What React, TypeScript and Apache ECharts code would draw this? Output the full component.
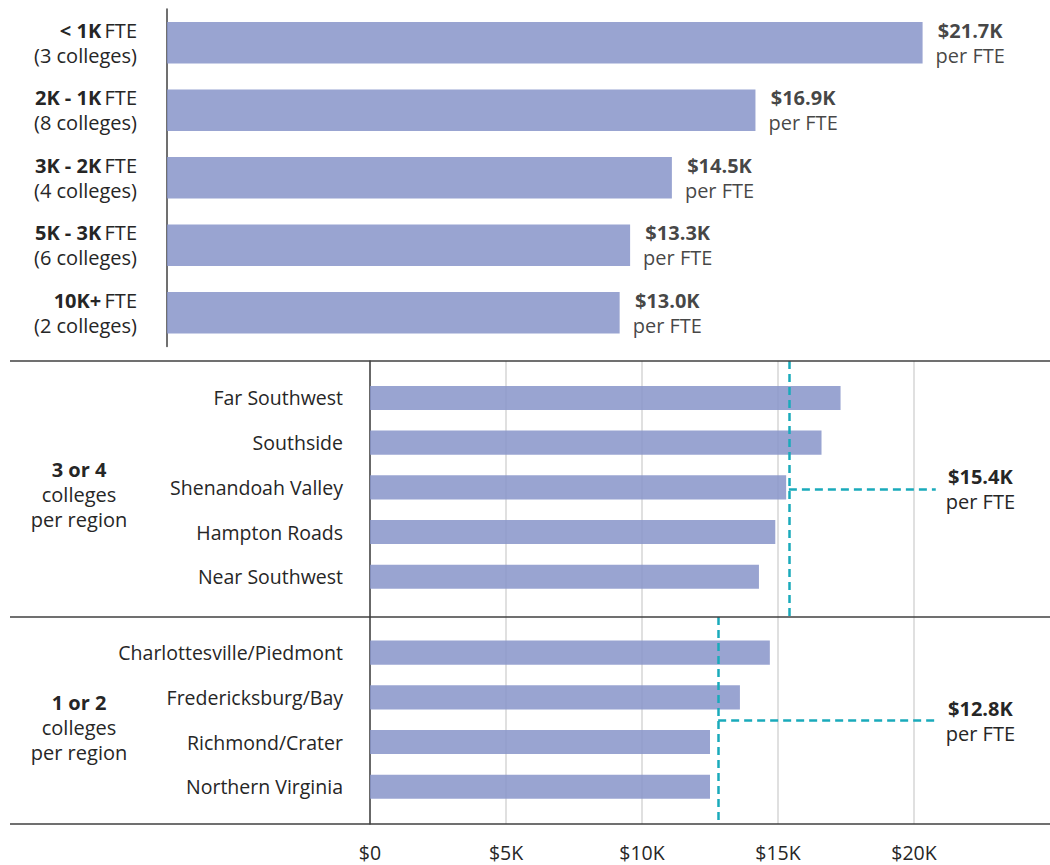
import React, { useEffect, useRef } from 'react';
import * as echarts from 'echarts';

// ---- data ----
const sizeBands = ['< 1K', '2K - 1K', '3K - 2K', '5K - 3K', '10K+'];
const sizeCollegeCounts = [3, 8, 4, 6, 2];
const sizeSpend = [21.7, 16.9, 14.5, 13.3, 13.0]; // $K per FTE

const bigRegions = ['Far Southwest', 'Southside', 'Shenandoah Valley', 'Hampton Roads', 'Near Southwest'];
const bigRegionSpend = [17.3, 16.6, 15.3, 14.9, 14.3];
const bigRegionAvg = 15.4;
const bigRegionGroup = ['3 or 4', 'colleges', 'per region'];

const smallRegions = ['Charlottesville/Piedmont', 'Fredericksburg/Bay', 'Richmond/Crater', 'Northern Virginia'];
const smallRegionSpend = [14.7, 13.6, 12.5, 12.5];
const smallRegionAvg = 12.8;
const smallRegionGroup = ['1 or 2', 'colleges', 'per region'];

const axisMax = 25;
const axisStep = 5;
const leaderEnd = 20.8;

// ---- styles ----
const FONT = '"Open Sans", "Noto Sans", sans-serif';
const TXT = '#262626';
const BAR = '#8794C9';
const TEAL = '#1AAABB';
const FRAME = '#404040';
const FS_TOP = 20;
const FS = 19.5;
const LH = 25;

const fmtK = (v: number) => '$' + v.toFixed(1) + 'K';

export default function App() {
  const ref = useRef<HTMLDivElement>(null);
  useEffect(() => {
    if (!ref.current) return;
    const chart = echarts.init(ref.current, undefined, { renderer: 'svg' });

    const hiddenX = (gridIndex: number) => ({
      type: 'value', gridIndex, min: 0, max: axisMax, show: false,
    });
    const gridX = (gridIndex: number, labels: boolean) => ({
      type: 'value', gridIndex, min: 0, max: axisMax, interval: axisStep,
      axisLine: { show: false }, axisTick: { show: false },
      splitLine: { show: true, showMaxLine: false, lineStyle: { color: '#d6d6d6', width: 1.5 } },
      axisLabel: {
        show: labels, showMaxLabel: false, margin: 18, color: TXT, fontFamily: FONT, fontSize: FS,
        formatter: (v: number) => (v === 0 ? '$0' : '$' + v + 'K'),
      },
    });
    const catLabel = {
      color: TXT, fontFamily: FONT, fontSize: FS, margin: 27,
    };

    const richFor = (fs: number, lh: number) => ({
      b: { fontWeight: 'bold', fontSize: fs, fontFamily: FONT, color: TXT, lineHeight: lh, align: 'center' },
      r: { fontSize: fs, fontFamily: FONT, color: TXT, lineHeight: lh, align: 'center' },
    });

    const avgLine = (gridIdx: number, avg: number) => ({
      type: 'line', xAxisIndex: gridIdx, yAxisIndex: gridIdx, data: [], z: 1,
      markLine: {
        silent: true, symbol: ['none', 'none'], animation: false,
        lineStyle: { color: TEAL, type: [8, 5], width: 2.5 },
        label: { show: false },
        data: [
          { xAxis: avg, label: { show: false } },
          [
            {
              coord: [avg, 0.5],
              label: {
                show: true, position: 'end', distance: 10,
                formatter: `{b|${fmtK(avg)}}\n{r|per FTE}`,
                rich: richFor(FS_TOP, LH),
              },
            },
            { coord: [leaderEnd, 0.5] },
          ],
        ],
      },
    });

    const groupText = (lines: string[], y: number) => ({
      type: 'text', x: 79, y,
      style: {
        text: `{b|${lines[0]}}\n{r|${lines[1]}}\n{r|${lines[2]}}`,
        align: 'center', verticalAlign: 'middle',
        rich: {
          b: { fontWeight: 'bold', fontSize: FS_TOP, fontFamily: FONT, fill: TXT, lineHeight: LH, align: 'center' },
          r: { fontSize: FS_TOP, fontFamily: FONT, fill: TXT, lineHeight: LH, align: 'center' },
        },
      },
    });

    const hLine = (y: number) => ({
      type: 'line', shape: { x1: 10, y1: y, x2: 1050, y2: y },
      style: { stroke: FRAME, lineWidth: 1.5 }, z: 10,
    });

    chart.setOption({
      animation: false,
      grid: [
        { left: 167, top: 9, width: 870.5, height: 337.5 },
        { left: 370, top: 375.6, width: 680, height: 223.5 },
        { left: 370, top: 630.3, width: 680, height: 178.8 },
        { left: 370, top: 361, width: 680, height: 256 },
        { left: 370, top: 617, width: 680, height: 207 },
      ],
      xAxis: [hiddenX(0), hiddenX(1), hiddenX(2), gridX(3, false), gridX(4, true)],
      yAxis: [
        {
          type: 'category', gridIndex: 0, data: sizeBands, inverse: true,
          axisLine: { show: true, lineStyle: { color: FRAME, width: 1.5 } },
          axisTick: { show: false },
          axisLabel: {
            margin: 30, align: 'right',
            formatter: (v: string, i: number) => `{b|${v}} {r|FTE}\n{r|(${sizeCollegeCounts[i]} colleges)}`,
            rich: {
              b: { fontWeight: 'bold', fontSize: FS_TOP, fontFamily: FONT, color: TXT, lineHeight: LH },
              r: { fontSize: FS_TOP, fontFamily: FONT, color: TXT, lineHeight: LH },
            },
          },
        },
        {
          type: 'category', gridIndex: 1, data: bigRegions, inverse: true,
          axisLine: { show: false }, axisTick: { show: false }, axisLabel: catLabel,
        },
        {
          type: 'category', gridIndex: 2, data: smallRegions, inverse: true,
          axisLine: { show: false }, axisTick: { show: false }, axisLabel: catLabel,
        },
        {
          type: 'value', gridIndex: 3, min: 0, max: 1, inverse: true,
          axisLine: { show: true, lineStyle: { color: FRAME, width: 1.5 } },
          axisTick: { show: false }, axisLabel: { show: false }, splitLine: { show: false },
        },
        {
          type: 'value', gridIndex: 4, min: 0, max: 1, inverse: true,
          axisLine: { show: true, lineStyle: { color: FRAME, width: 1.5 } },
          axisTick: { show: false }, axisLabel: { show: false }, splitLine: { show: false },
        },
      ],
      series: [
        {
          type: 'bar', xAxisIndex: 0, yAxisIndex: 0, data: sizeSpend, barWidth: '61.5%',
          itemStyle: { color: BAR, opacity: 0.85 },
          label: {
            show: true, position: 'right', distance: 13,
            formatter: (p: any) => `{b|${fmtK(p.value)}}\n{r|per FTE}`,
            rich: richFor(FS_TOP, LH),
          },
        },
        {
          type: 'bar', xAxisIndex: 1, yAxisIndex: 1, data: bigRegionSpend, barWidth: '54%',
          itemStyle: { color: BAR, opacity: 0.85 }, z: 3,
        },
        {
          type: 'bar', xAxisIndex: 2, yAxisIndex: 2, data: smallRegionSpend, barWidth: '54%',
          itemStyle: { color: BAR, opacity: 0.85 }, z: 3,
        },
        avgLine(3, bigRegionAvg),
        avgLine(4, smallRegionAvg),
      ],
      graphic: [
        hLine(361), hLine(617), hLine(824),
        groupText(bigRegionGroup, 494.5),
        groupText(smallRegionGroup, 727),
      ],
    });
    return () => chart.dispose();
  }, []);
  return <div ref={ref} style={{ position: 'absolute', left: 0, top: 0, width: 1050, height: 865 }} />;
}
